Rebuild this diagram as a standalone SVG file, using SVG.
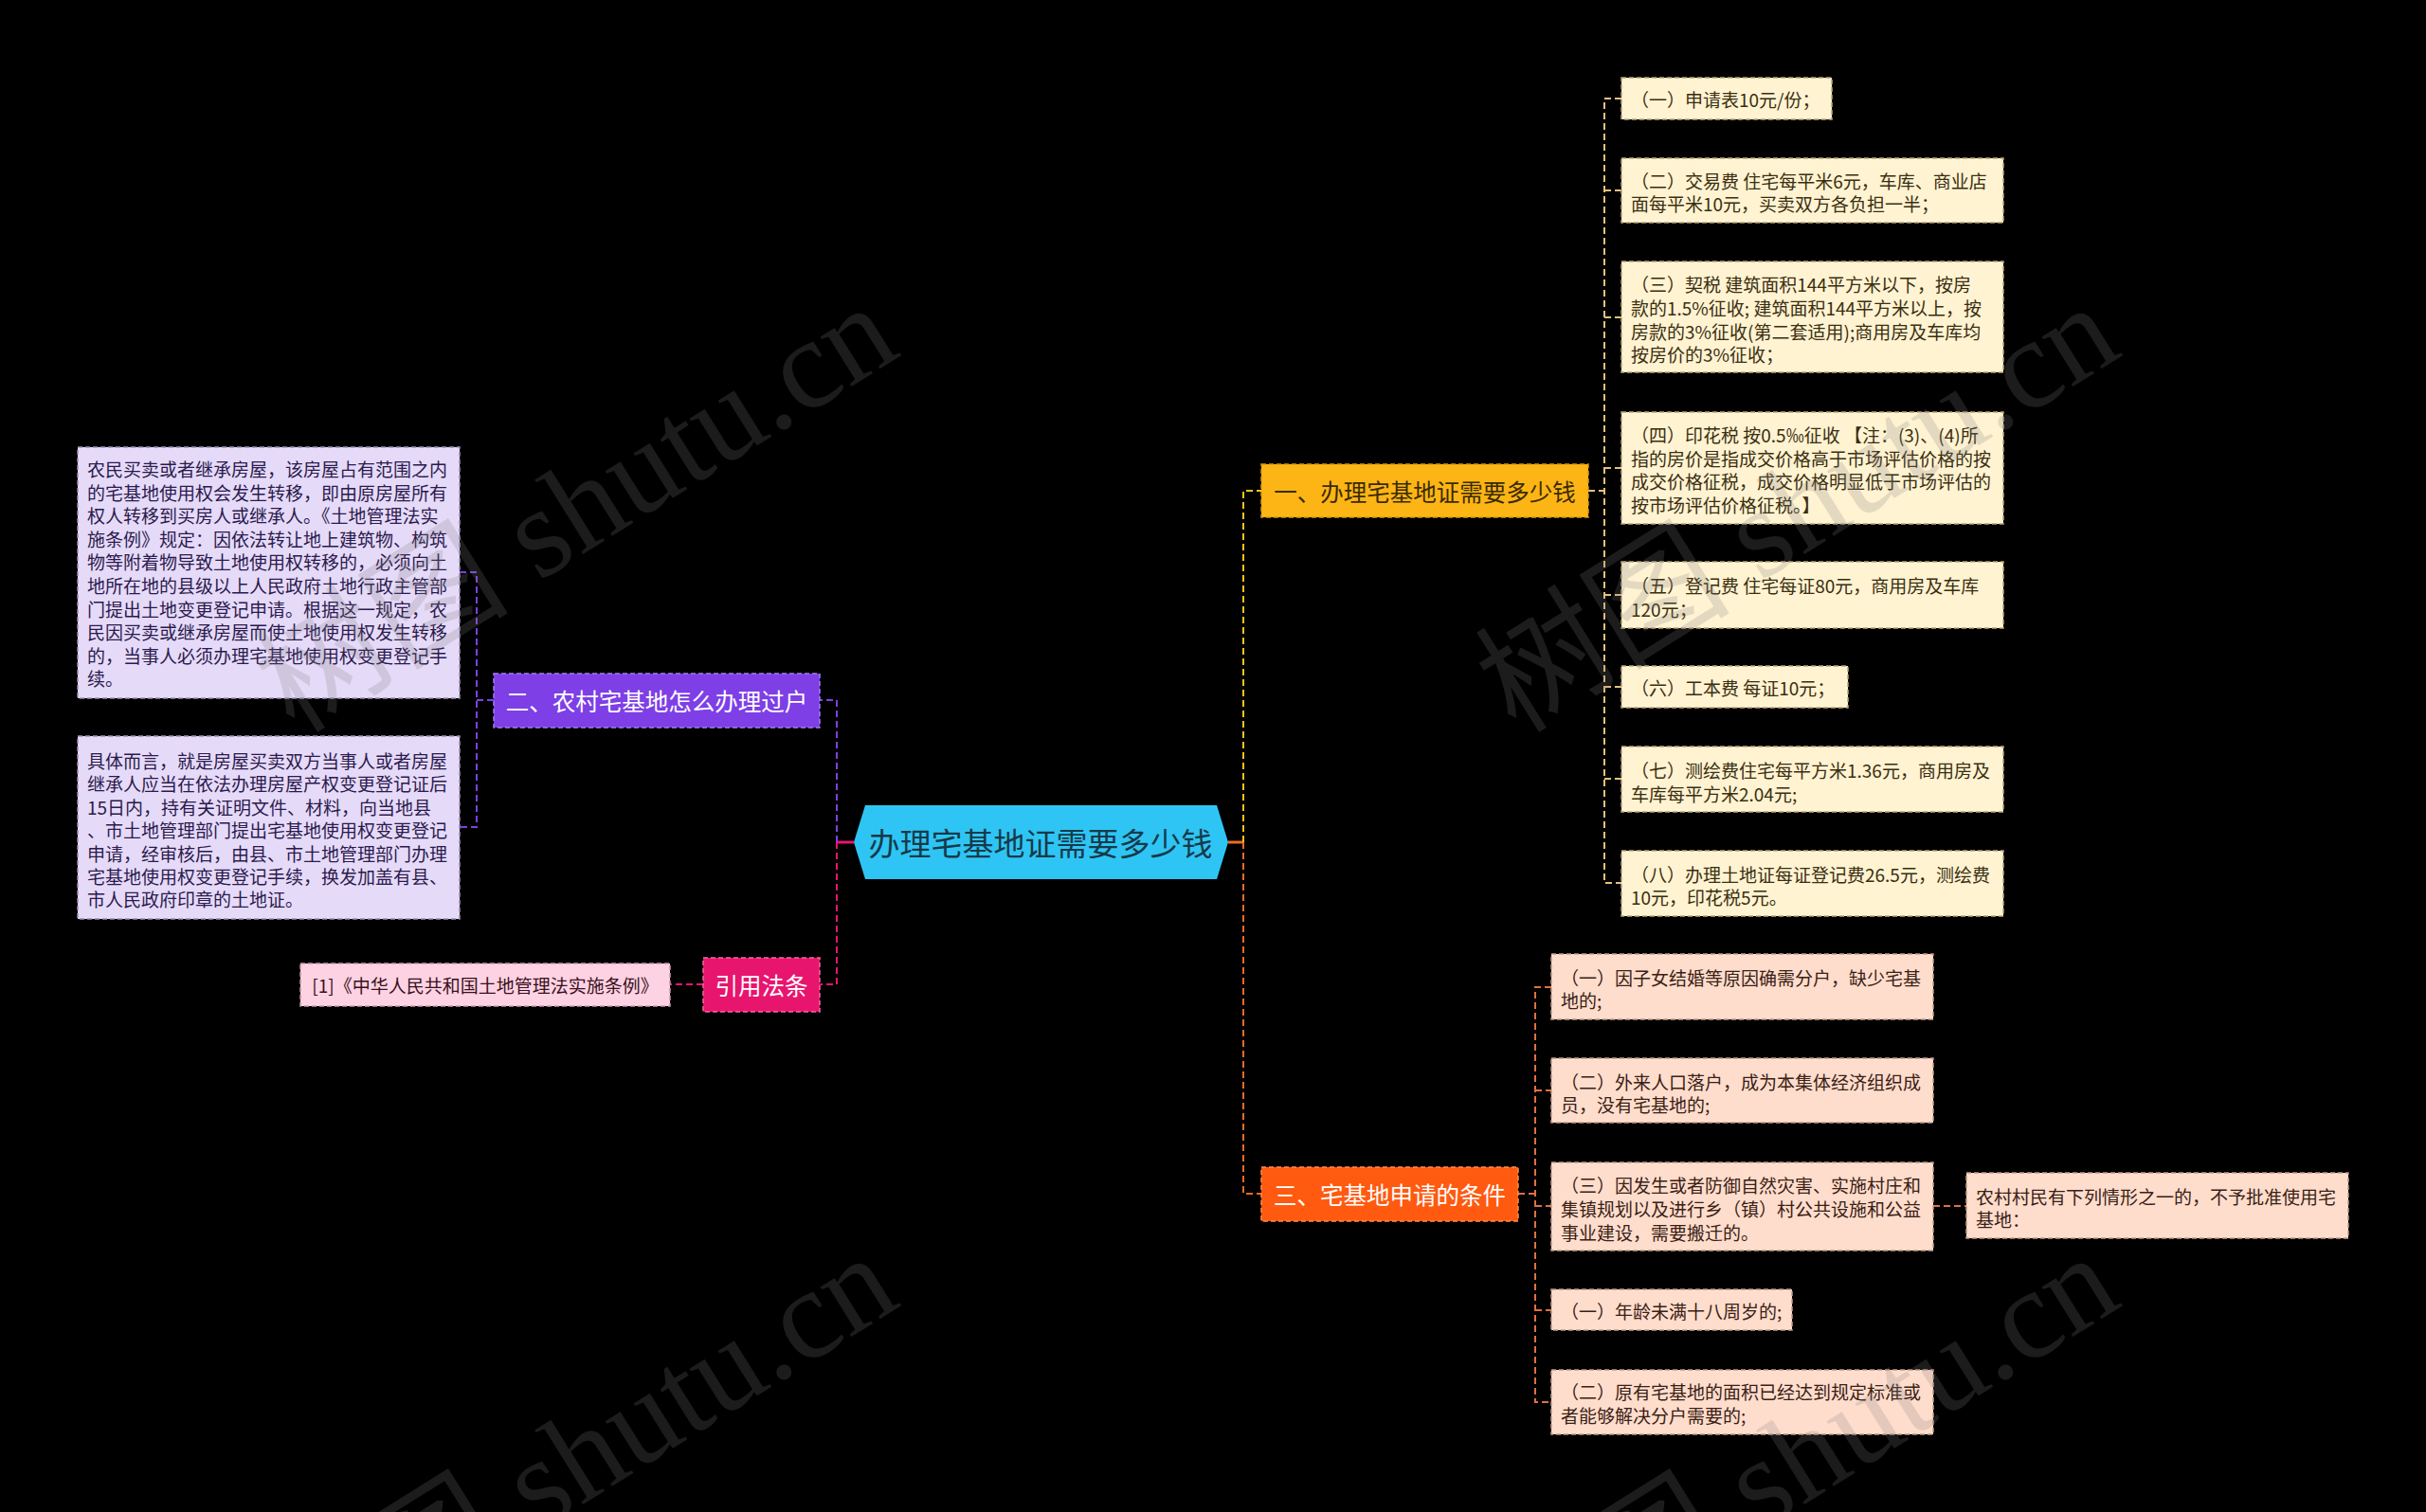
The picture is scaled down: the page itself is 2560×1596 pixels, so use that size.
<svg xmlns="http://www.w3.org/2000/svg" width="2560" height="1596" viewBox="0 0 2560 1596">
<style>
.t{font-family:"Noto Sans CJK SC","Noto Sans",sans-serif;dominant-baseline:central}
.s19{font-size:19px}
.s24{font-size:24.5px}
.lav{fill:#E6DAF9;stroke:#9d8fb8;stroke-width:1.5;stroke-dasharray:5 3}
.lavt{fill:#2B1A4D}
.cre{fill:#FFF3D2;stroke:#b8a67a;stroke-width:1.5;stroke-dasharray:5 3}
.cret{fill:#3A2E10}
.pea{fill:#FFDDCC;stroke:#c09a88;stroke-width:1.5;stroke-dasharray:5 3}
.peat{fill:#3A2015}
.pnk{fill:#FDD3E3;stroke:#c896aa;stroke-width:1.5;stroke-dasharray:5 3}
.pnkt{fill:#3a1020}
.c{fill:none;stroke-width:2;stroke-dasharray:7 4}
.wm{font-family:"Liberation Serif","Noto Sans CJK SC",serif;font-size:135px;fill:#808080;fill-opacity:0.22}
</style>
<rect x="0" y="0" width="2560" height="1596" fill="#000"/>

<g id="connectors">
  <!-- left of center -->
  <path d="M901 889 H883" stroke="#E8156E" stroke-width="3" fill="none"/>
  <path class="c" d="M883 889 V739 H865" stroke="#7E3FE6"/>
  <path class="c" d="M883 889 V1039 H865" stroke="#E8156E"/>
  <!-- purple children -->
  <path class="c" d="M521 739 H503" stroke="#7E3FE6"/>
  <path class="c" d="M485 604 H503 V873 H485" stroke="#7E3FE6"/>
  <!-- pink child -->
  <path class="c" d="M742 1039 H707" stroke="#E8156E"/>
  <!-- right of center -->
  <path d="M1296 889 H1312" stroke="#F06A25" stroke-width="3" fill="none"/>
  <path class="c" d="M1312 889 V518 H1331" stroke="#F5C518"/>
  <path class="c" d="M1312 889 V1260 H1331" stroke="#F06A25"/>
  <!-- yellow children -->
  <path class="c" d="M1676 518 H1693" stroke="#E5C27A"/>
  <path class="c" d="M1711 104 H1693 V932 H1711" stroke="#E5C27A"/>
  <path class="c" d="M1693 201 H1711 M1693 335 H1711 M1693 494 H1711 M1693 628 H1711 M1693 725 H1711 M1693 822 H1711" stroke="#E5C27A"/>
  <!-- orange children -->
  <path class="c" d="M1602 1260 H1620" stroke="#E07040"/>
  <path class="c" d="M1637 1042 H1620 V1480 H1637" stroke="#E07040"/>
  <path class="c" d="M1620 1151 H1637 M1620 1273 H1637 M1620 1383 H1637" stroke="#E07040"/>
  <path class="c" d="M2040 1273 H2075" stroke="#E07040"/>
</g>

<g id="root">
  <polygon points="901,889 913,850 1284,850 1296,889 1284,928 913,928" fill="#2EC5F4"/>
  <text class="t" x="1098" y="889" font-size="33" text-anchor="middle" fill="#163a4a">办理宅基地证需要多少钱</text>
</g>

<g id="n2">
  <rect x="521" y="711" width="344" height="57" fill="#7E3FE6" stroke="#a07ef0" stroke-width="1.5" stroke-dasharray="5 3"/>
  <text class="t s24" x="693" y="739" text-anchor="middle" fill="#fff">二、农村宅基地怎么办理过户</text>
</g>
<g id="n2a">
  <rect class="lav" x="82" y="472" width="403" height="265"/>
  <text class="t s19 lavt" x="92">
    <tspan x="92" y="494">农民买卖或者继承房屋，该房屋占有范围之内</tspan>
    <tspan x="92" y="518.6">的宅基地使用权会发生转移，即由原房屋所有</tspan>
    <tspan x="92" y="543.2">权人转移到买房人或继承人。《土地管理法实</tspan>
    <tspan x="92" y="567.8">施条例》规定：因依法转让地上建筑物、构筑</tspan>
    <tspan x="92" y="592.4">物等附着物导致土地使用权转移的，必须向土</tspan>
    <tspan x="92" y="617">地所在地的县级以上人民政府土地行政主管部</tspan>
    <tspan x="92" y="641.6">门提出土地变更登记申请。根据这一规定，农</tspan>
    <tspan x="92" y="666.2">民因买卖或继承房屋而使土地使用权发生转移</tspan>
    <tspan x="92" y="690.8">的，当事人必须办理宅基地使用权变更登记手</tspan>
    <tspan x="92" y="715.4">续。</tspan>
  </text>
</g>
<g id="n2b">
  <rect class="lav" x="82" y="777" width="403" height="193"/>
  <text class="t s19 lavt">
    <tspan x="92" y="802">具体而言，就是房屋买卖双方当事人或者房屋</tspan>
    <tspan x="92" y="826.4">继承人应当在依法办理房屋产权变更登记证后</tspan>
    <tspan x="92" y="850.8">15日内，持有关证明文件、材料，向当地县</tspan>
    <tspan x="92" y="875.2">、市土地管理部门提出宅基地使用权变更登记</tspan>
    <tspan x="92" y="899.6">申请，经审核后，由县、市土地管理部门办理</tspan>
    <tspan x="92" y="924">宅基地使用权变更登记手续，换发加盖有县、</tspan>
    <tspan x="92" y="948.4">市人民政府印章的土地证。</tspan>
  </text>
</g>

<g id="n4">
  <rect x="742" y="1011" width="123" height="57" fill="#E8156E" stroke="#f06a9e" stroke-width="1.5" stroke-dasharray="5 3"/>
  <text class="t s24" x="803.5" y="1039" text-anchor="middle" fill="#fff">引用法条</text>
</g>
<g id="n4a">
  <rect class="pnk" x="317" y="1017" width="390" height="45"/>
  <text class="t s19 pnkt" x="512" y="1039.5" text-anchor="middle">[1]《中华人民共和国土地管理法实施条例》</text>
</g>

<g id="n1">
  <rect x="1331" y="490" width="345" height="56" fill="#FDB515" stroke="#d89a10" stroke-width="1.5" stroke-dasharray="5 3"/>
  <text class="t s24" x="1503.5" y="518" text-anchor="middle" fill="#3a2a00">一、办理宅基地证需要多少钱</text>
</g>
<g id="n1a">
  <rect class="cre" x="1711" y="82" width="222" height="44"/>
  <text class="t s19 cret" x="1721" y="104">（一）申请表10元/份；</text>
</g>
<g id="n1b">
  <rect class="cre" x="1711" y="167" width="403" height="68"/>
  <text class="t s19 cret"><tspan x="1721" y="190">（二）交易费 住宅每平米6元，车库、商业店</tspan><tspan x="1721" y="214">面每平米10元，买卖双方各负担一半；</tspan></text>
</g>
<g id="n1c">
  <rect class="cre" x="1711" y="276" width="403" height="117"/>
  <text class="t s19 cret"><tspan x="1721" y="299">（三）契税 建筑面积144平方米以下，按房</tspan><tspan x="1721" y="324">款的1.5%征收; 建筑面积144平方米以上，按</tspan><tspan x="1721" y="349">房款的3%征收(第二套适用);商用房及车库均</tspan><tspan x="1721" y="373">按房价的3%征收；</tspan></text>
</g>
<g id="n1d">
  <rect class="cre" x="1711" y="435" width="403" height="118"/>
  <text class="t s19 cret"><tspan x="1721" y="458">（四）印花税 按0.5‰征收 【注：(3)、(4)所</tspan><tspan x="1721" y="483">指的房价是指成交价格高于市场评估价格的按</tspan><tspan x="1721" y="507">成交价格征税，成交价格明显低于市场评估的</tspan><tspan x="1721" y="532">按市场评估价格征税。】</tspan></text>
</g>
<g id="n1e">
  <rect class="cre" x="1711" y="593" width="403" height="70"/>
  <text class="t s19 cret"><tspan x="1721" y="617">（五）登记费 住宅每证80元，商用房及车库</tspan><tspan x="1721" y="642">120元；</tspan></text>
</g>
<g id="n1f">
  <rect class="cre" x="1711" y="703" width="239" height="44"/>
  <text class="t s19 cret" x="1721" y="725">（六）工本费 每证10元；</text>
</g>
<g id="n1g">
  <rect class="cre" x="1711" y="788" width="403" height="69"/>
  <text class="t s19 cret"><tspan x="1721" y="812">（七）测绘费住宅每平方米1.36元，商用房及</tspan><tspan x="1721" y="837">车库每平方米2.04元;</tspan></text>
</g>
<g id="n1h">
  <rect class="cre" x="1711" y="898" width="403" height="69"/>
  <text class="t s19 cret"><tspan x="1721" y="922">（八）办理土地证每证登记费26.5元，测绘费</tspan><tspan x="1721" y="946">10元，印花税5元。</tspan></text>
</g>

<g id="n3">
  <rect x="1331" y="1232" width="271" height="57" fill="#FF5A10" stroke="#ff8a50" stroke-width="1.5" stroke-dasharray="5 3"/>
  <text class="t s24" x="1466.5" y="1260" text-anchor="middle" fill="#fff">三、宅基地申请的条件</text>
</g>
<g id="n3a">
  <rect class="pea" x="1637" y="1007" width="403" height="69"/>
  <text class="t s19 peat"><tspan x="1647" y="1031">（一）因子女结婚等原因确需分户，缺少宅基</tspan><tspan x="1647" y="1055">地的;</tspan></text>
</g>
<g id="n3b">
  <rect class="pea" x="1637" y="1117" width="403" height="68"/>
  <text class="t s19 peat"><tspan x="1647" y="1141">（二）外来人口落户，成为本集体经济组织成</tspan><tspan x="1647" y="1165">员，没有宅基地的;</tspan></text>
</g>
<g id="n3c">
  <rect class="pea" x="1637" y="1227" width="403" height="93"/>
  <text class="t s19 peat"><tspan x="1647" y="1250">（三）因发生或者防御自然灾害、实施村庄和</tspan><tspan x="1647" y="1275">集镇规划以及进行乡（镇）村公共设施和公益</tspan><tspan x="1647" y="1300">事业建设，需要搬迁的。</tspan></text>
</g>
<g id="n3c1">
  <rect class="pea" x="2075" y="1238" width="403" height="69"/>
  <text class="t s19 peat"><tspan x="2085" y="1262">农村村民有下列情形之一的，不予批准使用宅</tspan><tspan x="2085" y="1286">基地：</tspan></text>
</g>
<g id="n3d">
  <rect class="pea" x="1637" y="1361" width="254" height="43"/>
  <text class="t s19 peat" x="1647" y="1383">（一）年龄未满十八周岁的;</text>
</g>
<g id="n3e">
  <rect class="pea" x="1637" y="1446" width="403" height="68"/>
  <text class="t s19 peat"><tspan x="1647" y="1468">（二）原有宅基地的面积已经达到规定标准或</tspan><tspan x="1647" y="1493">者能够解决分户需要的;</tspan></text>
</g>

<g id="watermarks">
  <text class="wm" x="953" y="374" text-anchor="end" transform="rotate(-32 953 374)">树图 shutu.cn</text>
  <text class="wm" x="2242" y="374" text-anchor="end" transform="rotate(-32 2242 374)">树图 shutu.cn</text>
  <text class="wm" x="953" y="1377" text-anchor="end" transform="rotate(-32 953 1377)">树图 shutu.cn</text>
  <text class="wm" x="2242" y="1377" text-anchor="end" transform="rotate(-32 2242 1377)">树图 shutu.cn</text>
</g>
</svg>
